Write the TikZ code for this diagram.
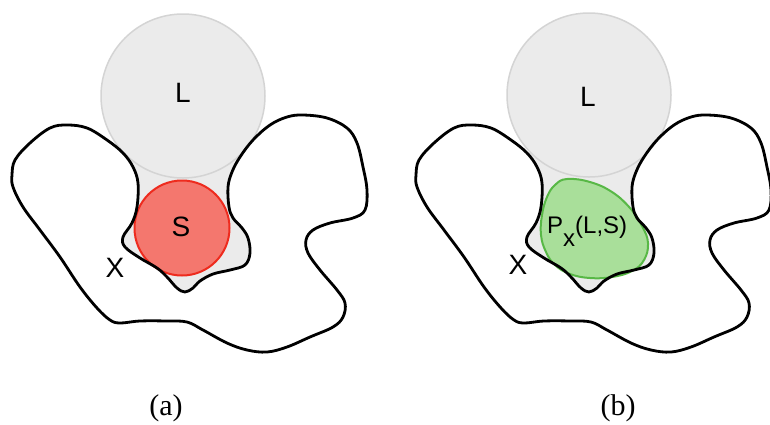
\documentclass[tikz,border=0pt]{standalone}
\usepackage{fontspec}
\setmainfont{Liberation Serif}
\setsansfont{Liberation Sans}
\definecolor{lgray}{HTML}{EBEBEB}
\definecolor{lborder}{HTML}{D4D4D4}
\definecolor{sfill}{HTML}{F4776E}
\definecolor{sline}{HTML}{EE2B1E}
\definecolor{gfill}{HTML}{A9DF9A}
\definecolor{gline}{HTML}{58B846}
\newcommand{\figsans}{\sffamily\fontsize{28}{30}\selectfont}
\newcommand{\figsmall}{\sffamily\fontsize{24}{26}\selectfont}
\newcommand{\figcap}{\rmfamily\fontsize{30}{32}\selectfont}
\tikzset{
  ligand/.style={circle, fill=lgray, draw=lborder, line width=1.5pt, minimum size=164pt, inner sep=0pt},
  pocketfill/.style={fill=lgray, draw=none},
  outline/.style={draw=black, line width=2.8pt, line join=round},
  sphere/.style={circle, fill=sfill, draw=sline, line width=2pt, minimum size=95pt, inner sep=0pt},
  blob/.style={fill=gfill, draw=gline, line width=2pt},
  txt/.style={inner sep=0pt, font=\figsans},
  caplabel/.style={inner sep=0pt, font=\figcap},
  pics/pocket/.style={code={
    \fill[pocketfill] plot[smooth, tension=0.6] coordinates {(123,153) (133,167) (138,183) (137,207) (132,223) (123,237) (125,247) (140,258) (157,268) (167,277) (177,288) (185,292) (193,288) (200,281) (213,274) (230,270) (245,265) (250,253) (248,238) (242,228) (233,218) (229,207) (228,187) (232,172) (240,157)} -- (183,120) -- cycle;
  }},
  pics/molx/.style={code={
    \draw[outline] plot[smooth cycle, tension=0.6] coordinates {(12,175) (15,160) (30,143) (50,128) (67,125) (87,128) (107,140) (123,153) (133,167) (138,183) (137,207) (132,223) (123,237) (125,247) (140,258) (157,268) (167,277) (177,288) (185,292) (193,288) (200,281) (213,274) (230,270) (245,265) (250,253) (248,238) (242,228) (233,218) (229,207) (228,187) (232,172) (240,157) (253,140) (270,125) (287,117) (303,115) (327,118) (347,128) (357,143) (363,167) (367,190) (365,210) (353,218) (330,223) (313,230) (306,240) (308,253) (320,270) (337,290) (345,303) (343,317) (333,327) (310,337) (287,347) (267,352) (247,350) (227,343) (203,330) (187,322) (167,321) (140,321) (120,323) (110,320) (97,308) (80,287) (60,257) (40,230) (23,207) (13,187)};
  }}
}
\begin{document}
\begin{tikzpicture}[x=1pt,y=-1pt]
\useasboundingbox (0,0) rectangle (770,424);
\fill[white] (0,0) rectangle (770,424);
\clip (0,0) rectangle (770,424);
% panel (a)
\pic (pa) at (0,0) {pocket};
\node[ligand] (La) at (183,96) {};
\node[sphere] (Sa) at (182,228) {};
\pic (xa) at (0,0) {molx};
\node[txt] (La-t) at (183,93) {L};
\node[txt] (Sa-t) at (181,227) {S};
\node[txt] (Xa-t) at (115,268) {X};
\node[caplabel] (cap-a) at (166,408) {(a)};
% panel (b)
\pic (pb) at (404,0) {pocket};
\node[ligand] (Lb) at (589,95) {};
\draw[blob] plot[smooth cycle, tension=0.7] coordinates {(567,179) (590,182) (612,192) (630,208) (642,226) (648,243) (644,260) (632,271) (612,277) (590,278) (570,274) (555,265) (546,252) (541,235) (542,215) (547,197) (555,185)};
\pic (xb) at (404,0) {molx};
\node[txt] (Lb-t) at (588,97) {L};
\node[txt] (Xb-t) at (518,265) {X};
\node[inner sep=0pt, font=\figsmall, anchor=base west] (Pb-t) at (547,233) {P\raisebox{-13pt}{x}(L,S)};
\node[caplabel] (cap-b) at (618,408) {(b)};
\end{tikzpicture}
\end{document}
